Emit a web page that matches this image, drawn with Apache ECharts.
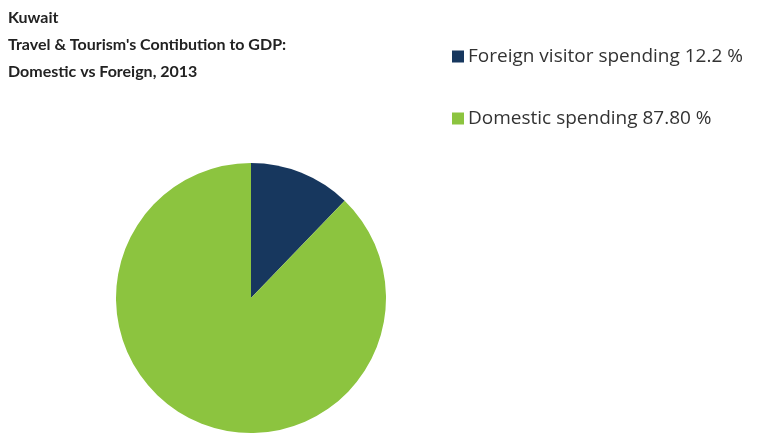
<!DOCTYPE html>
<html>
<head>
<meta charset="utf-8">
<script src="https://cdn.jsdelivr.net/npm/echarts@6/dist/echarts.min.js"></script>
<style>
  html, body { margin: 0; padding: 0; background: #fff; }
  #chart { width: 770px; height: 445px; }
</style>
</head>
<body>
<div id="chart"></div>
<script>
// data
var categories = ['Foreign visitor spending', 'Domestic spending'];
var shares = [12.2, 87.8];
var shareLabels = ['12.2 %', '87.80 %'];
var colors = ['#17375e', '#8cc43f'];

var chart = echarts.init(document.getElementById('chart'));

var pieData = categories.map(function (c, i) {
    return { name: c, value: shares[i], itemStyle: { color: colors[i] } };
});

chart.setOption({
    animation: false,
    title: {
        text: 'Kuwait\nTravel & Tourism\'s Contibution to GDP:\nDomestic vs Foreign, 2013',
        left: 8,
        top: 4,
        padding: 0,
        textStyle: {
            fontFamily: 'Lato',
            fontSize: 16,
            fontWeight: 'bold',
            color: '#222',
            lineHeight: 27
        }
    },
    legend: {
        orient: 'vertical',
        left: 447,
        top: 42,
        itemWidth: 12,
        itemHeight: 12,
        itemGap: 43,
        icon: 'rect',
        selectedMode: false,
        data: categories,
        formatter: function (name) {
            var i = categories.indexOf(name);
            return name + ' ' + shareLabels[i];
        },
        textStyle: {
            fontFamily: 'Open Sans',
            fontSize: 19,
            color: '#333',
            padding: [0, 0, 0, -1]
        }
    },
    series: [{
        type: 'pie',
        center: [251, 298],
        radius: 135,
        startAngle: 90,
        clockwise: true,
        silent: true,
        label: { show: false },
        labelLine: { show: false },
        data: pieData
    }]
});
</script>
</body>
</html>
